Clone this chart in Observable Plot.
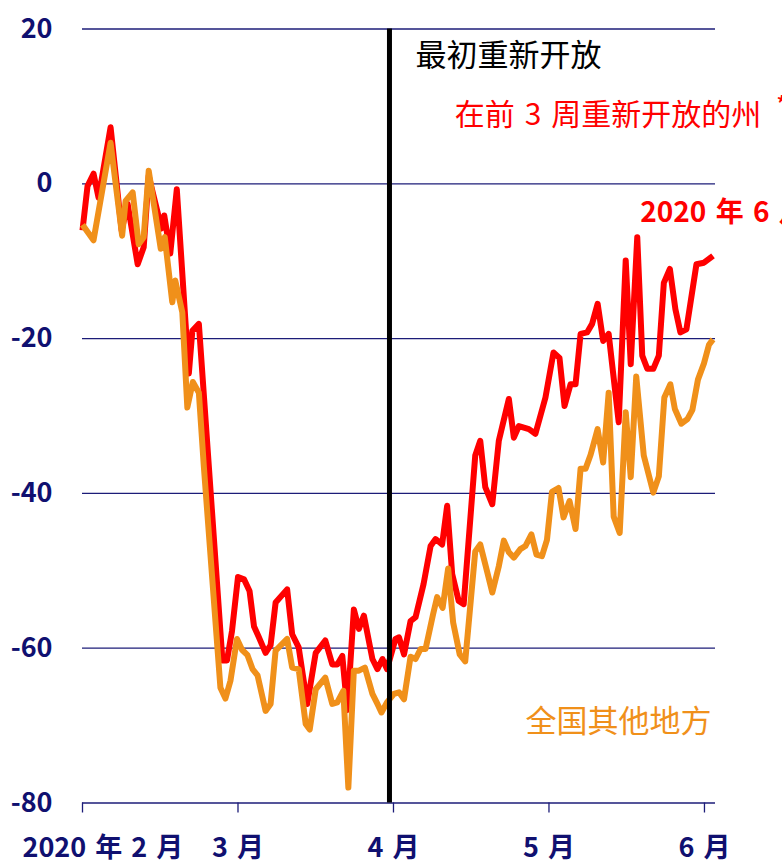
<!DOCTYPE html>
<html>
<head>
<meta charset="utf-8">
<script src="https://cdn.jsdelivr.net/npm/d3@7"></script>
<script src="https://cdn.jsdelivr.net/npm/@observablehq/plot@0.6"></script>
<style>
  html, body { margin: 0; padding: 0; background: #fff; overflow: hidden; }
  svg { overflow: hidden; }
</style>
</head>
<body>
<div id="chart"></div>
<script>
// Day positions (days since 1 Feb 2020 on the chart's evenly spaced month axis) and values
const redDay = [0,1.0,2.2,3.2,5.6,7.8,9.0,11.0,12.2,13.2,15.2,15.7,16.3,17.5,18.8,21.2,21.9,23.2,27.9,28.8,29.8,31.0,32.2,33.3,34.2,35.1,36.5,37.5,38.5,40.8,41.8,43.1,44.8,46.5,48.4,49.8,50.8,51.8,52.8,54.1,55.1,56.1,57.8,58.8,59.8,60.7,62.4,63.1,64.1,65.4,66.4,68.0,69.4,70.4,71.7,72.7,73.7,75.0,76.0,78.3,79.3,80.3,81.7,83.0,85.0,86.0,87.0,89.0,90.3,92.3,93.9,95.1,96.1,97.3,98.3,99.3,100.6,101.6,102.7,103.8,104.9,106.9,108.3,109.3,110.6,111.6,112.6,113.8,114.9,115.9,117.1,118.2,119.2,120.4,122.4,123.9,124.9,125.7];
const redValue = [-6,-0.3,1.3,-1.8,7.3,-6.0,-2.6,-10.4,-8.2,1.0,-4.3,-5.8,-4.1,-9,-0.7,-24.5,-19,-18.1,-61.6,-61.6,-57.8,-50.8,-51.1,-52.6,-57.2,-58.5,-60.6,-59.6,-54.1,-52.4,-58.2,-59.9,-67.2,-60.6,-59.0,-62.1,-62.1,-61.0,-68.0,-55.0,-57.5,-55.8,-61.4,-62.7,-61.4,-62.7,-58.8,-58.6,-60.8,-56.5,-56.0,-51.7,-46.8,-45.9,-46.6,-41.6,-50.4,-53.9,-54.3,-35.1,-33.2,-39.2,-41.4,-33.2,-27.8,-32.8,-31.3,-31.7,-32.3,-27.6,-21.8,-22.5,-28.7,-25.9,-25.9,-19.4,-19.2,-18.1,-15.5,-20.3,-19.4,-30.8,-9.9,-23.3,-6.9,-22.2,-23.9,-23.9,-22.2,-12.8,-11.0,-16.2,-19.2,-18.8,-10.4,-10.2,-9.7,-9.3];

const orangeDay = [0,2.2,5.6,7.9,8.6,10.0,11.2,12.2,13.2,15.6,16.4,17.9,18.5,19.9,20.9,22.0,23.2,24.2,27.5,28.5,29.5,30.8,31.8,32.9,33.9,34.9,36.5,37.5,38.5,40.8,41.8,43.1,44.5,45.3,46.5,48.4,49.8,50.8,52.0,53.0,54.1,55.1,56.3,57.8,58.8,59.6,60.7,62.1,63.1,64.1,65.4,66.4,67.4,68.4,69.9,70.7,71.8,72.9,73.9,75.2,76.3,78.3,79.3,80.7,81.7,83.0,84.0,85.0,86.0,87.3,88.3,89.5,90.5,91.6,92.6,93.6,94.9,95.9,97.1,98.3,99.3,100.3,101.3,102.7,103.8,104.9,105.9,107.1,108.3,109.3,110.4,111.9,113.8,114.9,116.0,117.2,118.1,119.4,120.6,121.6,122.7,123.9,124.9,125.7];
const orangeValue = [-5.3,-7.3,5.3,-6.7,-2.2,-1.1,-7.8,-6.9,1.7,-8.4,-6.9,-15.3,-12.5,-16.6,-28.9,-25.6,-27.0,-36.6,-65.1,-66.5,-64.2,-58.8,-60.2,-60.9,-62.7,-63.5,-68.1,-67.2,-60.3,-58.8,-62.5,-62.7,-69.8,-70.5,-65.3,-63.8,-67.2,-67.0,-65.5,-78.0,-62.9,-62.9,-62.5,-65.9,-67.2,-68.3,-67.0,-65.9,-65.7,-66.6,-61.1,-61.4,-60.1,-60.1,-55.6,-53.4,-54.8,-49.7,-56.7,-60.8,-61.7,-47.5,-46.6,-50.2,-52.8,-49.4,-46.1,-47.6,-48.3,-47.2,-46.8,-45.3,-47.9,-48.1,-46.0,-39.8,-39.3,-43.1,-41.0,-44.6,-36.8,-36.8,-35.0,-31.7,-36.0,-27.0,-43.0,-45.1,-29.5,-37.9,-24.9,-35.1,-39.9,-37.8,-27.6,-25.9,-29.1,-31.0,-30.4,-29.2,-25.3,-23.2,-20.8,-20.1];

const yTicks = [20, 0, -20, -40, -60, -80];
const monthDays = [0, 31, 62, 93, 124];
const monthLabels = ["2020\u2004年\u20042\u2004月", "3\u2004月", "4\u2004月", "5\u2004月", "6\u2004月"];
const reopenDay = 61.2;

const redData = redDay.map((d, i) => ({day: d, value: redValue[i]}));
const orangeData = orangeDay.map((d, i) => ({day: d, value: orangeValue[i]}));

const navy = "#101070";
const grid = "#1c1c78";
const RED = "#ff0000";
const ORANGE = "#f0901a";

const chart = Plot.plot({
  width: 782,
  height: 865,
  marginLeft: 82,
  marginRight: 67,
  marginTop: 28.5,
  marginBottom: 62.5,
  x: {domain: [0, 126.2], axis: null},
  y: {domain: [-80, 20], axis: null},
  style: {fontFamily: "'Noto Sans CJK SC', 'Noto Sans', sans-serif", background: "#fff", overflow: "hidden"},
  marks: [
    Plot.ruleY(yTicks, {stroke: grid, strokeWidth: 1.3}),
    Plot.axisY({ticks: yTicks, label: null, tickSize: 0, tickPadding: 30, fontSize: 27, fontWeight: "bold", fill: navy, tickFormat: d => String(d)}),
    Plot.axisX({ticks: monthDays, label: null, tickSize: 10, tickFormat: () => "", stroke: grid, strokeWidth: 1.3}),
    Plot.text(monthLabels.slice(1), {x: monthDays.slice(1), frameAnchor: "bottom", lineAnchor: "middle", dy: 45, fontSize: 27, fontWeight: "bold", fill: navy, textAnchor: "middle"}),
    Plot.text([monthLabels[0]], {x: monthDays[0], frameAnchor: "bottom", lineAnchor: "middle", dy: 45, dx: -60, fontSize: 27, fontWeight: "bold", fill: navy, textAnchor: "start"}),
    Plot.line(redData, {x: "day", y: "value", stroke: RED, strokeWidth: 6, strokeLinejoin: "round", strokeLinecap: "butt"}),
    Plot.line(orangeData, {x: "day", y: "value", stroke: ORANGE, strokeWidth: 6, strokeLinejoin: "round", strokeLinecap: "butt"}),
    Plot.ruleX([reopenDay], {y1: 20, y2: -80, stroke: "#000", strokeWidth: 5}),
    Plot.text(["最初重新开放"], {x: 66.4, y: 16.5, textAnchor: "start", fontSize: 31, fill: "#000"}),
    Plot.text(["在前\u20043\u2004周重新开放的州"], {x: 74.2, y: 8.8, textAnchor: "start", fontSize: 30, fill: RED}),
    Plot.text(["*"], {x: 138.4, y: 10.2, textAnchor: "start", fontSize: 20, fontWeight: "bold", fill: RED}),
    Plot.text(["2020\u2004年\u20046\u2004月"], {x: 111.2, y: -3.8, textAnchor: "start", fontSize: 28, fontWeight: "bold", fill: RED}),
    Plot.text(["全国其他地方"], {x: 88.3, y: -69.6, textAnchor: "start", fontSize: 31, fill: ORANGE})
  ]
});
document.getElementById("chart").appendChild(chart);
</script>
</body>
</html>
